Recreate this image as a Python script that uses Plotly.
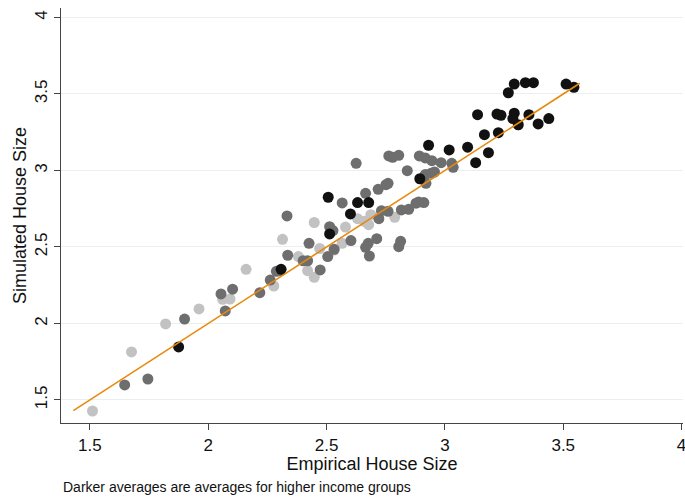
import plotly.graph_objects as go

# Empirical vs simulated house size, three income tiers (light = low, dark = high)
light_x = [1.511, 1.676, 1.820, 1.961, 2.061, 2.092, 2.160, 2.277, 2.314, 2.381, 2.420, 2.448,
           2.448, 2.471, 2.580, 2.566, 2.532, 2.631, 2.659, 2.678, 2.687, 2.788]
light_y = [1.428, 1.814, 1.997, 2.095, 2.158, 2.160, 2.354, 2.245, 2.550, 2.437, 2.345, 2.302,
           2.660, 2.490, 2.630, 2.524, 2.480, 2.685, 2.668, 2.646, 2.711, 2.694]

mid_x = [1.647, 1.745, 1.900, 2.054, 2.103, 2.072, 2.218, 2.262, 2.288, 2.300, 2.333, 2.336,
         2.401, 2.420, 2.426, 2.473, 2.505, 2.532, 2.513, 2.527, 2.603, 2.566, 2.665, 2.676,
         2.712, 2.681, 2.805, 2.813, 2.625, 2.665, 2.718, 2.751, 2.760, 2.721, 2.732, 2.760,
         2.763, 2.779, 2.805, 2.816, 2.847, 2.841, 2.878, 2.889, 2.911, 2.892, 2.917, 2.945,
         2.984, 3.029, 3.035, 2.917, 2.942, 2.956, 2.920]
mid_y = [1.598, 1.637, 2.029, 2.193, 2.224, 2.082, 2.201, 2.284, 2.341, 2.345, 2.703, 2.446,
         2.410, 2.410, 2.524, 2.350, 2.437, 2.485, 2.633, 2.607, 2.542, 2.788, 2.498, 2.524,
         2.554, 2.441, 2.502, 2.537, 3.047, 2.851, 2.877, 2.907, 2.916, 2.685, 2.737, 2.733,
         3.095, 3.086, 3.099, 2.742, 2.746, 2.999, 2.786, 2.794, 2.790, 3.095, 3.082, 3.064,
         3.051, 3.047, 3.021, 2.973, 2.982, 2.990, 2.916]

high_x = [1.875, 2.308, 2.513, 2.507, 2.601, 2.631, 2.678, 2.931, 3.018, 2.894, 3.096, 3.130,
          3.184, 3.138, 3.167, 3.220, 3.237, 3.226, 3.293, 3.287, 3.310, 3.355, 3.394, 3.439,
          3.268, 3.293, 3.340, 3.374, 3.512, 3.545]
high_y = [1.847, 2.354, 2.585, 2.825, 2.716, 2.790, 2.790, 3.165, 3.134, 2.946, 3.152, 3.051,
          3.116, 3.365, 3.234, 3.369, 3.361, 3.247, 3.374, 3.339, 3.299, 3.365, 3.304, 3.339,
          3.508, 3.565, 3.574, 3.574, 3.565, 3.544]

line_x = [1.43, 3.57]
line_y = [1.43, 3.57]

tick_vals = [1.5, 2, 2.5, 3, 3.5, 4]
tick_text = ["1.5", "2", "2.5", "3", "3.5", "4"]

FONT = "Liberation Sans, Arial, sans-serif"
MS = 11

fig = go.Figure()
fig.add_trace(go.Scatter(x=light_x, y=light_y, mode="markers",
                         marker=dict(size=MS, color="#c2c2c2", line=dict(width=0)), showlegend=False))
fig.add_trace(go.Scatter(x=mid_x, y=mid_y, mode="markers",
                         marker=dict(size=MS, color="#6e6e6e", line=dict(width=0)), showlegend=False))
fig.add_trace(go.Scatter(x=high_x, y=high_y, mode="markers",
                         marker=dict(size=MS, color="#111111", line=dict(width=0)), showlegend=False))
fig.add_trace(go.Scatter(x=line_x, y=line_y, mode="lines",
                         line=dict(color="#e8890f", width=1.6), showlegend=False))

fig.update_layout(
    width=685, height=498,
    margin=dict(l=61, r=2, t=8, b=75, autoexpand=False),
    paper_bgcolor="white", plot_bgcolor="white",
    font=dict(family=FONT, color="#111111"),
    xaxis=dict(range=[1.378, 4.006], tickvals=tick_vals, ticktext=tick_text,
               showgrid=False, zeroline=False, showline=True, linecolor="#444444", linewidth=1.2,
               ticks="outside", ticklen=6, tickcolor="#444444", tickfont=dict(size=17),
               ticklabeloverflow="allow",
               title=dict(text="Empirical House Size", font=dict(size=18), standoff=3),
               automargin=False),
    yaxis=dict(range=[1.3495, 4.062], tickvals=tick_vals, ticktext=tick_text,
               showgrid=True, gridcolor="#e8f0f1", gridwidth=1, zeroline=False,
               showline=True, linecolor="#444444", linewidth=1.2,
               ticks="outside", ticklen=6, tickcolor="#444444", tickfont=dict(size=17),
               tickangle=-90,
               title=dict(text="Simulated House Size", font=dict(size=18), standoff=0),
               automargin=False),
    annotations=[dict(text="Darker averages are averages for higher income groups",
                      xref="paper", yref="paper", x=0.0, y=-0.154,
                      xanchor="left", yanchor="middle", showarrow=False,
                      font=dict(size=14, family=FONT, color="#111111"))],
)

fig.write_html("out.html")
